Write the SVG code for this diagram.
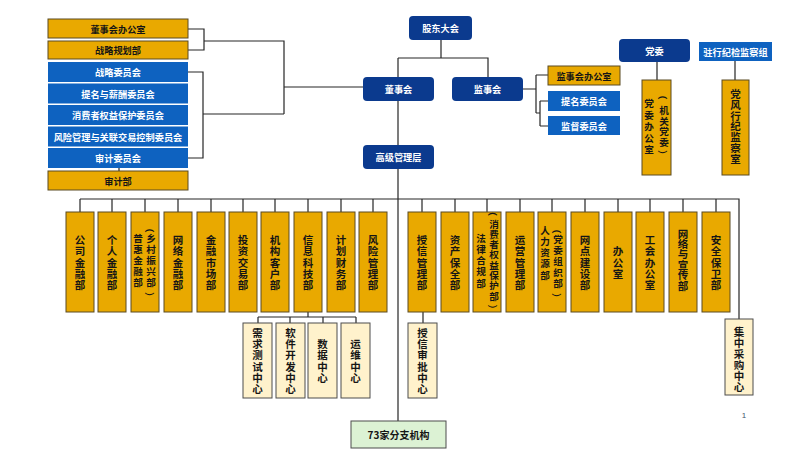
<svg xmlns="http://www.w3.org/2000/svg" width="800" height="450" viewBox="0 0 800 450">
<style>
text{font-family:"Noto Sans CJK SC","Noto Sans",sans-serif;font-weight:700;dominant-baseline:central;text-anchor:middle}
.nv{fill:#0b3a8e}
.bl{fill:#0e62c0}
.yl{fill:#e9a900;stroke:#5a4b22;stroke-width:1}
.cr{fill:#fff2cc;stroke:#4d4d4d;stroke-width:1}
.gr{fill:#dcf2d4;stroke:#4d4d4d;stroke-width:1}
.ln{stroke:#262626;stroke-width:1.2;fill:none}
.w{fill:#fff;font-size:9.2px}
.k{fill:#151515;font-size:9.2px}
.v{fill:#151515;font-size:10.5px}
.v2{fill:#151515;font-size:9.6px}
.pg{fill:#44546a;font-size:8px;font-family:"Liberation Sans",sans-serif;font-weight:400}
</style>
<rect width="800" height="450" fill="#fff"/>
<g id="connectors">
<path class="ln" d="M188,29H204V50H188M204,41H284V114M188,72H203V158H188M203,114H284M284,87H363"/>
<path class="ln" d="M119,168V171"/>
<path class="ln" d="M441,40V58M398,58H488V77M398,58V77M398,101V145M398,169V421"/>
<path class="ln" d="M523,89H536M536,75V113M536,75H548M536,113H540M540,101V126M540,101H548M540,126H548"/>
<path class="ln" d="M657,62V80M735,61V80"/>
<path class="ln" d="M80,199H739V319M80,199V212M112,199V212M145,199V212M178,199V212M211,199V212M243,199V212M275,199V212M308,199V212M341,199V212M373,199V212M422,199V212M455,199V212M487,199V212M520,199V212M552,199V212M585,199V212M618,199V212M650,199V212M683,199V212M716,199V212"/>
<path class="ln" d="M308,312V317M258,317H356M258,317V323M290,317V323M323,317V323M356,317V323M423,312V323"/>
</g>
<g id="left-boards">
<g id="n-dshbgs"><rect class="yl" x="48" y="19" width="140" height="19"/><text class="k" x="118" y="28.5">董事会办公室</text></g>
<g id="n-zlghb"><rect class="yl" x="48" y="41" width="140" height="18"/><text class="k" x="118" y="50">战略规划部</text></g>
<g id="n-zlwyh"><rect class="bl" x="48" y="62" width="140" height="20"/><text class="w" x="118" y="72">战略委员会</text></g>
<g id="n-tmxc"><rect class="bl" x="48" y="83.5" width="140" height="20"/><text class="w" x="118" y="93.5">提名与薪酬委员会</text></g>
<g id="n-xfz"><rect class="bl" x="48" y="105" width="140" height="20"/><text class="w" x="118" y="115">消费者权益保护委员会</text></g>
<g id="n-fxgl"><rect class="bl" x="48" y="126.5" width="140" height="20"/><text class="w" x="118" y="136.5">风险管理与关联交易控制委员会</text></g>
<g id="n-sjwyh"><rect class="bl" x="48" y="148" width="140" height="20"/><text class="w" x="118" y="158">审计委员会</text></g>
<g id="n-sjb"><rect class="yl" x="48" y="171" width="140" height="19"/><text class="k" x="118" y="180.5">审计部</text></g>
</g>
<g id="n-gddh"><rect class="nv" x="409" y="16" width="63" height="24" rx="4"/><text class="w" x="440.5" y="28">股东大会</text></g>
<g id="n-dsh"><rect class="nv" x="363" y="77" width="71" height="24" rx="4"/><text class="w" x="398.5" y="89">董事会</text></g>
<g id="n-jsh"><rect class="nv" x="452" y="77" width="71" height="24" rx="4"/><text class="w" x="487.5" y="89">监事会</text></g>
<g id="n-gjglc"><rect class="nv" x="363" y="145" width="71" height="24" rx="4"/><text class="w" x="398.5" y="157">高级管理层</text></g>
<g id="n-jshbgs"><rect class="yl" x="548" y="66" width="72" height="19"/><text class="k" x="584" y="75.5">监事会办公室</text></g>
<g id="n-tmwyh"><rect class="bl" x="548" y="91" width="72" height="20"/><text class="w" x="584" y="101">提名委员会</text></g>
<g id="n-jdwyh"><rect class="bl" x="548" y="116" width="72" height="19"/><text class="w" x="584" y="125.5">监督委员会</text></g>
<g id="n-dw"><rect class="nv" x="619" y="39" width="71" height="23" rx="4"/><text class="w" x="654.5" y="50.5">党委</text></g>
<g id="n-zhjj"><rect class="bl" x="699" y="42" width="73" height="19"/><text class="w" x="735.5" y="51.5">驻行纪检监察组</text></g>
<g id="n-dwbgs"><rect class="yl" x="642" y="80" width="29" height="95"/>
<text class="v2"><tspan x="649 649 649 649 649" y="103 114.5 126 137.5 149">党委办公室</tspan></text>
<text class="v2"><tspan x="664" y="86" rotate="90">（</tspan><tspan x="664 664 664 664" y="110 120.5 131 141.5">机关党委</tspan><tspan x="664" y="146" rotate="90">）</tspan></text></g>
<g id="n-dfxj"><rect class="yl" x="722" y="80" width="27" height="95"/><text class="v"><tspan x="735.5 735.5 735.5 735.5 735.5 735.5 735.5" y="93 103.8 114.6 125.4 136.2 147 157.8">党风行纪监察室</tspan></text></g>
<g id="departments">
<g id="d1"><rect class="yl" x="66" y="212" width="28" height="100"/><text class="v" x="80 80 80 80 80" y="239.4 250.7 262 273.3 284.6">公司金融部</text></g>
<g id="d2"><rect class="yl" x="98" y="212" width="28" height="100"/><text class="v" x="112 112 112 112 112" y="239.4 250.7 262 273.3 284.6">个人金融部</text></g>
<g id="d3"><rect class="yl" x="131" y="212" width="28" height="100"/><text class="v2" x="138 138 138 138 138" y="238 249 260 271 282">普惠金融部</text><text class="v2"><tspan x="151" y="219" rotate="90">（</tspan><tspan x="151 151 151 151 151" y="238 249 260 271 282">乡村振兴部</tspan><tspan x="151" y="288" rotate="90">）</tspan></text></g>
<g id="d4"><rect class="yl" x="164" y="212" width="28" height="100"/><text class="v" x="178 178 178 178 178" y="239.4 250.7 262 273.3 284.6">网络金融部</text></g>
<g id="d5"><rect class="yl" x="197" y="212" width="28" height="100"/><text class="v" x="211 211 211 211 211" y="239.4 250.7 262 273.3 284.6">金融市场部</text></g>
<g id="d6"><rect class="yl" x="229" y="212" width="28" height="100"/><text class="v" x="243 243 243 243 243" y="239.4 250.7 262 273.3 284.6">投资交易部</text></g>
<g id="d7"><rect class="yl" x="261" y="212" width="28" height="100"/><text class="v" x="275 275 275 275 275" y="239.4 250.7 262 273.3 284.6">机构客户部</text></g>
<g id="d8"><rect class="yl" x="294" y="212" width="28" height="100"/><text class="v" x="308 308 308 308 308" y="239.4 250.7 262 273.3 284.6">信息科技部</text></g>
<g id="d9"><rect class="yl" x="327" y="212" width="28" height="100"/><text class="v" x="341 341 341 341 341" y="239.4 250.7 262 273.3 284.6">计划财务部</text></g>
<g id="d10"><rect class="yl" x="359" y="212" width="28" height="100"/><text class="v" x="373 373 373 373 373" y="239.4 250.7 262 273.3 284.6">风险管理部</text></g>
<g id="d11"><rect class="yl" x="408" y="212" width="28" height="100"/><text class="v" x="422 422 422 422 422" y="239.4 250.7 262 273.3 284.6">授信管理部</text></g>
<g id="d12"><rect class="yl" x="441" y="212" width="28" height="100"/><text class="v" x="455 455 455 455 455" y="239.4 250.7 262 273.3 284.6">资产保全部</text></g>
<g id="d13"><rect class="yl" x="473" y="212" width="28" height="100"/><text class="v2" x="481 481 481 481 481" y="238 249 260 271 283">法律合规部</text><text class="v2"><tspan x="494" y="202.5" rotate="90">（</tspan><tspan x="494 494 494 494 494 494 494 494" y="223.5 233.8 244.1 254.4 264.7 275 285.3 295.6">消费者权益保护部</tspan><tspan x="494" y="300.5" rotate="90">）</tspan></text></g>
<g id="d14"><rect class="yl" x="506" y="212" width="28" height="100"/><text class="v" x="520 520 520 520 520" y="239.4 250.7 262 273.3 284.6">运营管理部</text></g>
<g id="d15"><rect class="yl" x="538" y="212" width="28" height="100"/><text class="v2" x="545 545 545 545 545" y="230 241 252 263 275">人力资源部</text><text class="v2"><tspan x="558" y="220" rotate="90">（</tspan><tspan x="558 558 558 558 558" y="239 250 261 272 283">党委组织部</tspan><tspan x="558" y="289" rotate="90">）</tspan></text></g>
<g id="d16"><rect class="yl" x="571" y="212" width="28" height="100"/><text class="v" x="585 585 585 585 585" y="239.4 250.7 262 273.3 284.6">网点建设部</text></g>
<g id="d17"><rect class="yl" x="604" y="212" width="28" height="100"/><text class="v" x="618 618 618" y="250.7 262 273.3">办公室</text></g>
<g id="d18"><rect class="yl" x="636" y="212" width="28" height="100"/><text class="v" x="650 650 650 650 650" y="239.4 250.7 262 273.3 284.6">工会办公室</text></g>
<g id="d19"><rect class="yl" x="669" y="212" width="28" height="100"/><text class="v" x="683 683 683 683 683 683" y="233 243.4 253.8 264.2 274.6 285">网络与宣传部</text></g>
<g id="d20"><rect class="yl" x="702" y="212" width="28" height="100"/><text class="v" x="716 716 716 716 716" y="239.4 250.7 262 273.3 284.6">安全保卫部</text></g>
</g>
<g id="centers">
<g id="c1"><rect class="cr" x="243" y="323" width="29" height="75"/><text class="v" x="257.5 257.5 257.5 257.5 257.5 257.5" y="332.5 343.7 354.9 366.1 377.3 388.5">需求测试中心</text></g>
<g id="c2"><rect class="cr" x="276" y="323" width="29" height="75"/><text class="v" x="290.5 290.5 290.5 290.5 290.5 290.5" y="332.5 343.7 354.9 366.1 377.3 388.5">软件开发中心</text></g>
<g id="c3"><rect class="cr" x="308" y="323" width="29" height="75"/><text class="v" x="322.5 322.5 322.5 322.5" y="343.7 354.9 366.1 377.3">数据中心</text></g>
<g id="c4"><rect class="cr" x="341" y="323" width="29" height="75"/><text class="v" x="355.5 355.5 355.5 355.5" y="343.7 354.9 366.1 377.3">运维中心</text></g>
<g id="c5"><rect class="cr" x="408" y="323" width="29" height="75"/><text class="v" x="422.5 422.5 422.5 422.5 422.5 422.5" y="332.5 343.7 354.9 366.1 377.3 388.5">授信审批中心</text></g>
<g id="c6"><rect class="cr" x="725" y="319" width="28" height="76"/><text class="v" x="739 739 739 739 739 739" y="331 342 353 364 375 386">集中采购中心</text></g>
</g>
<g id="n-fzjg"><rect class="gr" x="351" y="421" width="95" height="27"/><text class="k" style="font-size:10px" x="398.5" y="434.5">73家分支机构</text></g>
<text class="pg" x="744" y="415">1</text>
</svg>
